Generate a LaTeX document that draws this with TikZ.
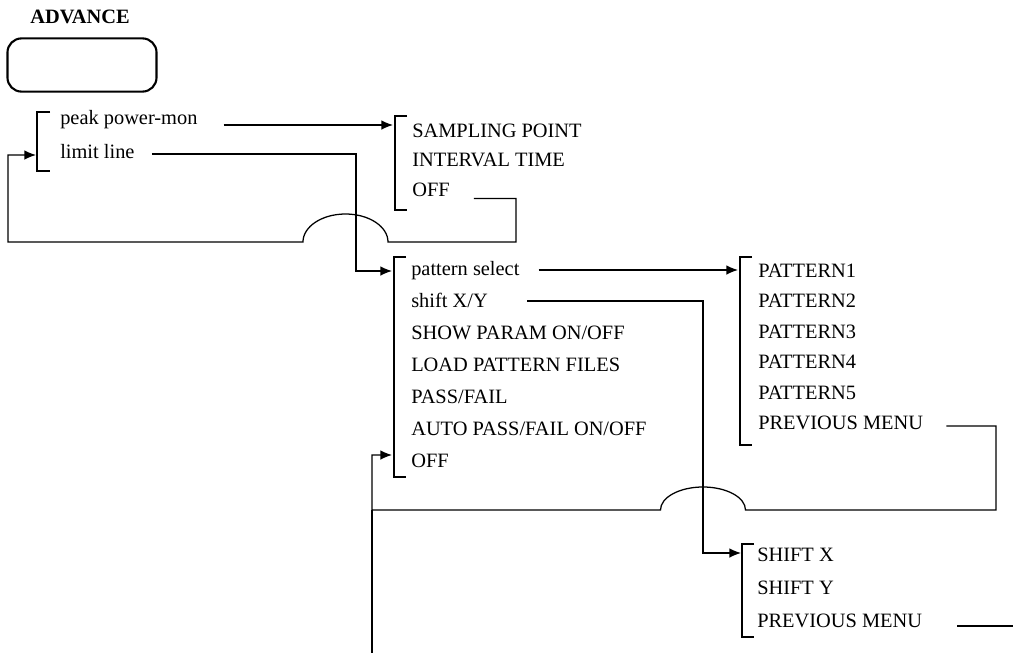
\documentclass[tikz,border=0pt]{standalone}
\usepackage{fontspec}
\setmainfont{Liberation Serif}
\usetikzlibrary{arrows.meta, positioning, calc}
\tikzstyle{item}   = [anchor=west, inner sep=0pt, text height=10pt, text depth=0pt,
                      font=\fontsize{14.5}{17}\selectfont]
\tikzstyle{title}  = [anchor=base, inner sep=0pt, font=\fontsize{14.5}{17}\selectfont\bfseries]
\tikzstyle{keybox} = [draw, line width=1.5pt, rounded corners=10pt,
                      minimum width=3.725cm, minimum height=1.33cm]
\tikzstyle{brace}  = [line width=0.9pt]
\tikzstyle{wire}   = [line width=0.9pt]
\tikzstyle{arr}    = [-{Latex[length=2.9mm, width=2.4mm]}, line width=0.9pt]

\begin{document}
\begin{tikzpicture}[x=0.025cm, y=-0.025cm]
    \useasboundingbox (0,0) rectangle (1015,654);

    % key
    \node[title] (advtitle) at (80,23) {ADVANCE};
    \node[keybox] (advbox) at (82,65) {};

    % first menu
    \node[item] (peak) at (60,117) {peak power-mon};
    \node[item, below=0.85cm of peak.west, anchor=west] (limit) {limit line};
    \draw[brace] (50,112) -| (37,171) -- (50,171);

    % peak power-mon menu
    \node[item] (samp) at (412,130) {SAMPLING POINT};
    \node[item, below=0.7375cm of samp.west, anchor=west] (intv) {INTERVAL TIME};
    \node[item, below=0.75cm of intv.west, anchor=west] (off1) {OFF};
    \draw[brace] (407,116) -| (395,210) -- (407,210);

    % limit line menu
    \node[item] (patsel) at (411,268) {pattern select};
    \node[item, below=0.8cm of patsel.west, anchor=west] (shiftxy) {shift X/Y};
    \node[item, below=0.8cm of shiftxy.west, anchor=west] (showp) {SHOW PARAM ON/OFF};
    \node[item, below=0.8cm of showp.west, anchor=west] (loadp) {LOAD PATTERN FILES};
    \node[item, below=0.8cm of loadp.west, anchor=west] (passf) {PASS/FAIL};
    \node[item, below=0.8cm of passf.west, anchor=west] (autop) {AUTO PASS/FAIL ON/OFF};
    \node[item, below=0.8cm of autop.west, anchor=west] (off2) {OFF};
    \draw[brace] (406,257) -| (394,477) -- (406,477);

    % pattern menu
    \node[item] (pat1) at (758,270) {PATTERN1};
    \node[item, below=0.7625cm of pat1.west, anchor=west] (pat2) {PATTERN2};
    \node[item, below=0.7625cm of pat2.west, anchor=west] (pat3) {PATTERN3};
    \node[item, below=0.7625cm of pat3.west, anchor=west] (pat4) {PATTERN4};
    \node[item, below=0.7625cm of pat4.west, anchor=west] (pat5) {PATTERN5};
    \node[item, below=0.7625cm of pat5.west, anchor=west] (prevp) {PREVIOUS MENU};
    \draw[brace] (752,257) -| (740,445) -- (752,445);

    % shift menu
    \node[item] (shx) at (757,554) {SHIFT X};
    \node[item, below=0.825cm of shx.west, anchor=west] (shy) {SHIFT Y};
    \node[item, below=0.825cm of shy.west, anchor=west] (prevs) {PREVIOUS MENU};
    \draw[brace] (754,544) -| (742,637) -- (754,637);

    % entry points and bends
    \coordinate (m1in) at (36,155);
    \coordinate (m2in) at (393,125);
    \coordinate (mainin) at (392,271);
    \coordinate (offin) at (392,455);
    \coordinate (patin) at (738,270);
    \coordinate (shin) at (741,553);
    \coordinate (jumpA) at (388,242);
    \coordinate (lq) at (8,242);
    \coordinate (jumpB) at (745.5,510);
    \coordinate (lp) at (372,510);
    \coordinate (exit) at (372,653);
    \coordinate (tail) at (1013,626);

    \draw[arr] ([xshift=0.65cm]m2in -| peak.east) -- (m2in);
    \draw[arr] ($(limit.base east)+(17,-4)$) -| ($(mainin)+(-36,0)$) -- (mainin);
    \draw[arr] ($(off1.base east)+(24,2)$) -| ($(jumpA)+(128,0)$) -- (jumpA)
        arc[start angle=0, end angle=180, x radius=1.0625cm, y radius=0.7cm]
        -- (lq) |- (m1in);
    \draw[arr] ([xshift=0.475cm]patin -| patsel.east) -- (patin);
    \draw[arr] ($(shiftxy.base east)+(39,-6)$) -| ($(shin)+(-38,0)$) -- (shin);
    \draw[arr] ($(prevp.base east)+(23,-3.5)$) -| ($(jumpB)+(250.5,0)$) -- (jumpB)
        arc[start angle=0, end angle=180, x radius=1.0625cm, y radius=0.575cm]
        -- (lp) |- (offin);
    \draw[wire] (lp) -- (exit);
    \draw[wire] ([xshift=0.875cm]tail -| prevs.east) -- (tail);
\end{tikzpicture}
\end{document}
